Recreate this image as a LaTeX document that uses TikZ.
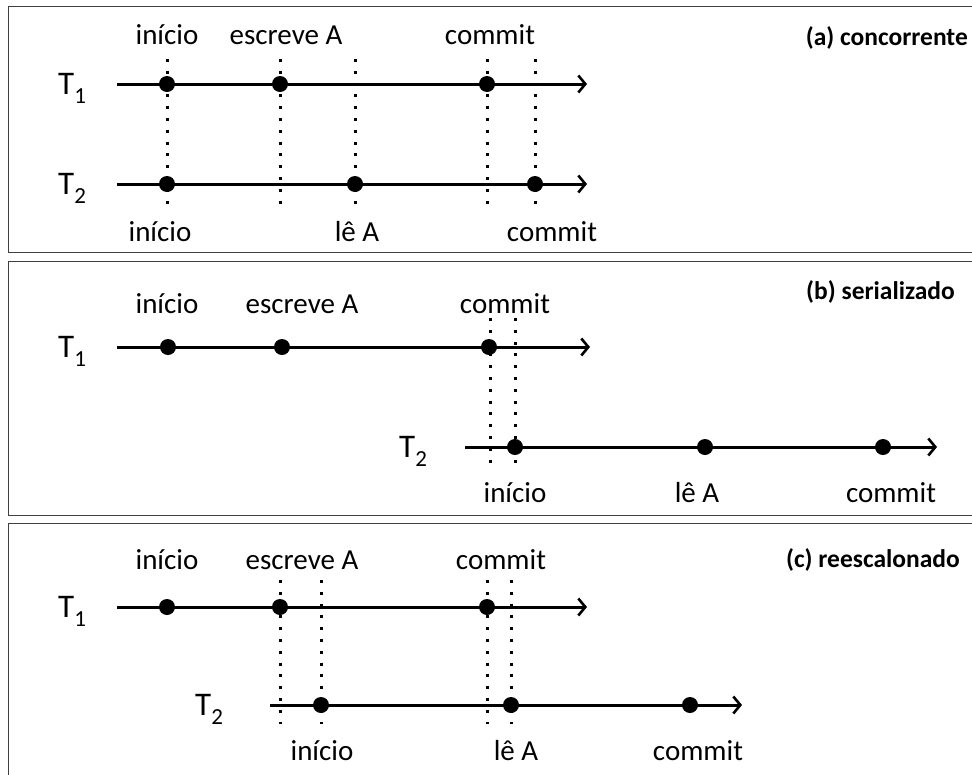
\documentclass[tikz,border=0pt]{standalone}
\usepackage{fontspec}
\setmainfont{Carlito}
\usetikzlibrary{arrows.meta}
\tikzset{
  panel/.style={line width=1.5pt, draw=black!75},
  timeline/.style={line width=3pt, -{Straight Barb[length=7pt,width=17pt,line width=2.6pt]}},
  evt/.style={circle, fill=black, inner sep=0pt, minimum size=16pt},
  sync/.style={line width=3pt, line cap=butt, dash pattern=on 3pt off 8.8pt},
  lbl/.style={anchor=base, inner sep=0pt, font=\fontsize{29}{32}\selectfont},
  ttl/.style={anchor=base east, inner sep=0pt, font=\fontsize{25.5}{30}\selectfont\bfseries},
  tname/.style={anchor=base west, inner sep=0pt, font=\fontsize{33}{36}\selectfont}
}
\newcommand{\tx}[1]{T\raisebox{-9pt}{\fontsize{23}{25}\selectfont #1}}
\begin{document}
\begin{tikzpicture}[x=1pt, y=-1pt]
\useasboundingbox (0,0) rectangle (972,774);
\clip (0,0) rectangle (972,774);

% panel frames (open on the right)
\draw[panel] (990,6.5) -- (8.5,6.5) -- (8.5,252.5) -- (990,252.5);
\draw[panel] (990,261.5) -- (8.5,261.5) -- (8.5,515.5) -- (990,515.5);
\draw[panel] (990,523.5) -- (8.5,523.5) -- (8.5,790);

% ---------------- (a) concorrente ----------------
\node[ttl] (ta) at (968,45) {(a) concorrente};
\node[tname] (a1n) at (58,94) {\tx{1}};
\node[tname] (a2n) at (58,194) {\tx{2}};
\coordinate (a1s) at (117,84); \coordinate (a1e) at (587,84);
\coordinate (a2s) at (117,184); \coordinate (a2e) at (587,184);
\foreach \x in {167,280,355,487,535}{
  \coordinate (av\x t) at (\x,59); \coordinate (av\x b) at (\x,206);
  \draw[sync] (av\x t) -- (av\x b);
}
\draw[timeline] (a1s) -- (a1e);
\draw[timeline] (a2s) -- (a2e);
\node[evt] (a1i) at (167,84) {};
\node[evt] (a1w) at (280,84) {};
\node[evt] (a1c) at (487,84) {};
\node[evt] (a2i) at (167,184) {};
\node[evt] (a2r) at (355,184) {};
\node[evt] (a2c) at (535,184) {};
\node[lbl] (la1i) at (167,44) {início};
\node[lbl] (la1w) at (286,44) {escreve A};
\node[lbl] (la1c) at (490,44) {commit};
\node[lbl] (la2i) at (160,241) {início};
\node[lbl] (la2r) at (357,241) {lê A};
\node[lbl] (la2c) at (552,241) {commit};

% ---------------- (b) serializado ----------------
\node[ttl] (tb) at (955,299) {(b) serializado};
\node[tname] (b1n) at (58,357) {\tx{1}};
\node[tname] (b2n) at (399,457) {\tx{2}};
\coordinate (b1s) at (117,347); \coordinate (b1e) at (590,347);
\coordinate (b2s) at (465,447); \coordinate (b2e) at (937,447);
\foreach \x in {490,515}{
  \coordinate (bv\x t) at (\x,318); \coordinate (bv\x b) at (\x,466);
  \draw[sync] (bv\x t) -- (bv\x b);
}
\draw[timeline] (b1s) -- (b1e);
\draw[timeline] (b2s) -- (b2e);
\node[evt] (b1i) at (168,347) {};
\node[evt] (b1w) at (282,347) {};
\node[evt] (b1c) at (489,347) {};
\node[evt] (b2i) at (515,447) {};
\node[evt] (b2r) at (705,447) {};
\node[evt] (b2c) at (883,447) {};
\node[lbl] (lb1i) at (167,313) {início};
\node[lbl] (lb1w) at (302,313) {escreve A};
\node[lbl] (lb1c) at (505,313) {commit};
\node[lbl] (lb2i) at (515,502) {início};
\node[lbl] (lb2r) at (697,502) {lê A};
\node[lbl] (lb2c) at (891,502) {commit};

% ---------------- (c) reescalonado ----------------
\node[ttl] (tc) at (960,567) {(c) reescalonado};
\node[tname] (c1n) at (58,617) {\tx{1}};
\node[tname] (c2n) at (195,715) {\tx{2}};
\coordinate (c1s) at (117,607); \coordinate (c1e) at (587,607);
\coordinate (c2s) at (270,705); \coordinate (c2e) at (742,705);
\foreach \x in {280,321,487,511}{
  \coordinate (cv\x t) at (\x,580); \coordinate (cv\x b) at (\x,724);
  \draw[sync] (cv\x t) -- (cv\x b);
}
\draw[timeline] (c1s) -- (c1e);
\draw[timeline] (c2s) -- (c2e);
\node[evt] (c1i) at (167,607) {};
\node[evt] (c1w) at (280,607) {};
\node[evt] (c1c) at (487,607) {};
\node[evt] (c2i) at (321,705) {};
\node[evt] (c2r) at (511,705) {};
\node[evt] (c2c) at (690,705) {};
\node[lbl] (lc1i) at (167,569) {início};
\node[lbl] (lc1w) at (302,569) {escreve A};
\node[lbl] (lc1c) at (501,569) {commit};
\node[lbl] (lc2i) at (322,760) {início};
\node[lbl] (lc2r) at (516,760) {lê A};
\node[lbl] (lc2c) at (698,760) {commit};
\end{tikzpicture}
\end{document}
